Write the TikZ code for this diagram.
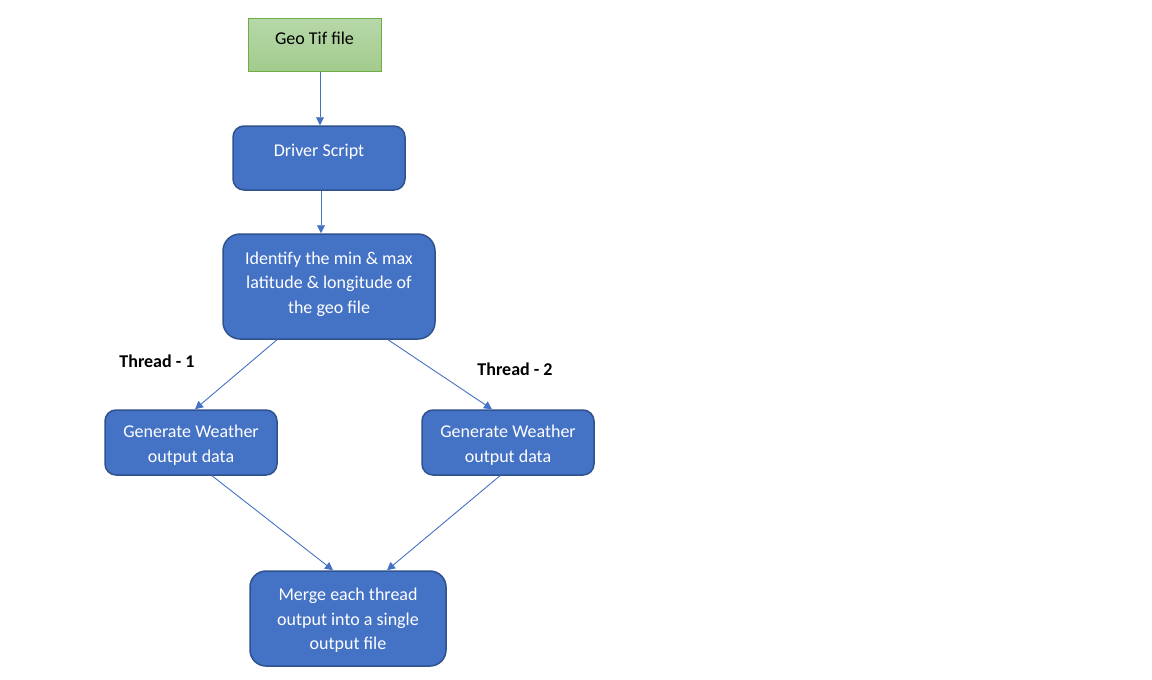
\documentclass[tikz,border=0pt]{standalone}
\usepackage{fontspec}
\setmainfont{Carlito}
\usetikzlibrary{arrows.meta}

\definecolor{boxblue}{HTML}{4472C4}
\definecolor{boxedge}{HTML}{2F528F}
\definecolor{geotop}{HTML}{B7D8AA}
\definecolor{geobot}{HTML}{A2CB8C}
\definecolor{geoedge}{HTML}{70AD47}

\tikzset{
    stagebox/.style = {draw=boxedge, line width=1.5pt, fill=boxblue, inner sep=0pt},
    inputbox/.style = {draw=geoedge, line width=1pt, top color=geotop, bottom color=geobot,
                       inner sep=0pt},
    boxtxt/.style   = {text=white, align=center, font=\fontsize{18}{24.5}\selectfont},
    flow/.style     = {draw=boxblue, line width=0.9pt, -{Triangle[length=8pt,width=8pt]}},
    threadlbl/.style = {font=\fontsize{18}{22}\selectfont\bfseries, text=black}
}

\begin{document}
\begin{tikzpicture}[x=1pt, y=-1pt]
                \useasboundingbox (0,0) rectangle (1152,680);

                \node[inputbox, minimum width=133pt, minimum height=53pt] (geo) at (314.5,44.5) {};
                \node[boxtxt, text=black] (geotxt) at (314.5,38) {Geo Tif file};

                \node[stagebox, rounded corners=11pt, minimum width=172pt, minimum height=64pt] (driver) at (319,158) {};
                \node[boxtxt] (drivertxt) at (319,152) {Driver Script};

                \node[stagebox, rounded corners=17pt, minimum width=212pt, minimum height=105pt] (ident) at (329,286.5) {};
                \node[boxtxt] (identtxt) at (329,284)
                    {Identify the min \& max\\latitude \& longitude of\\the geo file};

                \node[stagebox, rounded corners=11pt, minimum width=172pt, minimum height=65pt] (genone) at (191,442.5) {};
                \node[boxtxt] (genonetxt) at (191,445) {Generate Weather\\output data};
                \node[stagebox, rounded corners=11pt, minimum width=172pt, minimum height=65pt] (gentwo) at (508,442.5) {};
                \node[boxtxt] (gentwotxt) at (508,445) {Generate Weather\\output data};

                \node[stagebox, rounded corners=16pt, minimum width=196pt, minimum height=95pt] (merge) at (348,618.5) {};
                \node[boxtxt] (mergetxt) at (348,620.5)
                    {Merge each thread\\output into a single\\output file};

                \node[threadlbl] (labone) at (157,361) {Thread - 1};
                \node[threadlbl] (labtwo) at (515,369) {Thread - 2};

                \draw[flow] ([xshift=5.5pt]geo.south) -- ([xshift=1pt]driver.north);
                \draw[flow] ([xshift=2pt]driver.south) -- ([xshift=-8pt]ident.north);
                \draw[flow] ([xshift=-52pt]ident.south) -- ([xshift=4pt]genone.north);
                \draw[flow] ([xshift=59pt]ident.south) -- ([xshift=-16pt]gentwo.north);
                \draw[flow] ([xshift=21pt]genone.south) -- ([xshift=-15pt]merge.north);
                \draw[flow] ([xshift=-8pt]gentwo.south) -- ([xshift=39pt]merge.north);
            \end{tikzpicture}
\end{document}
